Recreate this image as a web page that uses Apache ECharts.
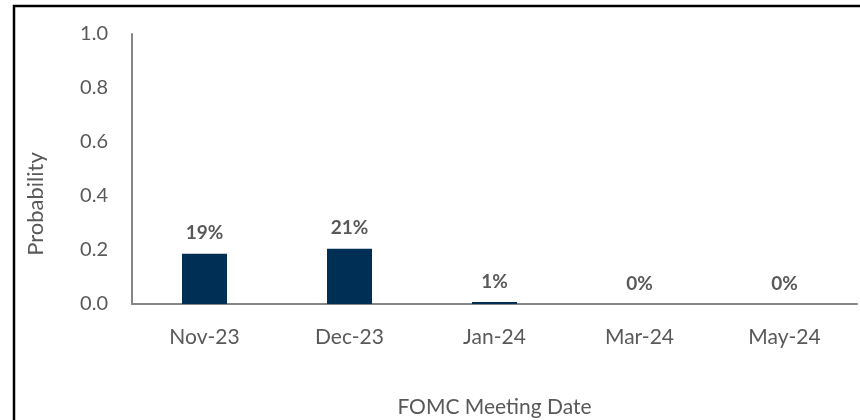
<!DOCTYPE html>
<html>
<head>
<meta charset="utf-8">
<script src="https://cdn.jsdelivr.net/npm/echarts@6/dist/echarts.min.js"></script>
<style>
  html, body { margin: 0; padding: 0; background: #fff; }
  #chart { width: 860px; height: 420px; }
</style>
</head>
<body>
<div id="chart"></div>
<script>
// 数据
var meetings = ['Nov-23', 'Dec-23', 'Jan-24', 'Mar-24', 'May-24'];
var probability = [0.186, 0.205, 0.007, 0, 0];
var pctLabels = ['19%', '21%', '1%', '0%', '0%'];

var chart = echarts.init(document.getElementById('chart'));
var grey = '#595959';
var fontFam = 'Lato, "Open Sans", sans-serif';

var option = {
  animation: false,
  backgroundColor: '#fff',
  textStyle: { fontFamily: fontFam },
  // 外框(只看得到左边和上边)
  graphic: [{
    type: 'rect',
    shape: { x: 14, y: 6, width: 900, height: 500 },
    style: { fill: 'none', stroke: '#000', lineWidth: 2.5 },
    z: 100
  }],
  grid: { left: 132, right: 3, top: 34, bottom: 116, outerBoundsMode: 'none' },
  xAxis: {
    type: 'category',
    data: meetings,
    name: 'FOMC Meeting Date',
    nameLocation: 'middle',
    nameGap: 93,
    nameTextStyle: { color: grey, fontSize: 21, fontFamily: fontFam },
    axisLine: { lineStyle: { color: '#868686', width: 2 } },
    axisTick: { show: false },
    axisLabel: { color: grey, fontSize: 21, margin: 23, fontFamily: fontFam }
  },
  yAxis: {
    type: 'value',
    min: 0,
    max: 1,
    interval: 0.2,
    name: 'Probability',
    nameLocation: 'middle',
    nameGap: 85,
    // 标题比绘图区中心偏下一些
    nameTextStyle: { color: grey, fontSize: 22, fontFamily: fontFam, padding: [0, 70, 0, 0] },
    axisLine: { show: true, lineStyle: { color: '#868686', width: 2 } },
    axisTick: { show: false },
    splitLine: { show: false },
    axisLabel: {
      color: grey, fontSize: 20, margin: 24, fontFamily: fontFam,
      formatter: function (v) { return v.toFixed(1); }
    }
  },
  series: [{
    type: 'bar',
    data: probability,
    barWidth: 45,
    itemStyle: { color: '#002f56' },
    label: {
      show: true,
      position: 'top',
      distance: 11,
      color: grey,
      fontSize: 19,
      fontWeight: 'bold',
      fontFamily: fontFam,
      formatter: function (p) { return pctLabels[p.dataIndex]; }
    }
  }]
};

chart.setOption(option);
</script>
</body>
</html>
